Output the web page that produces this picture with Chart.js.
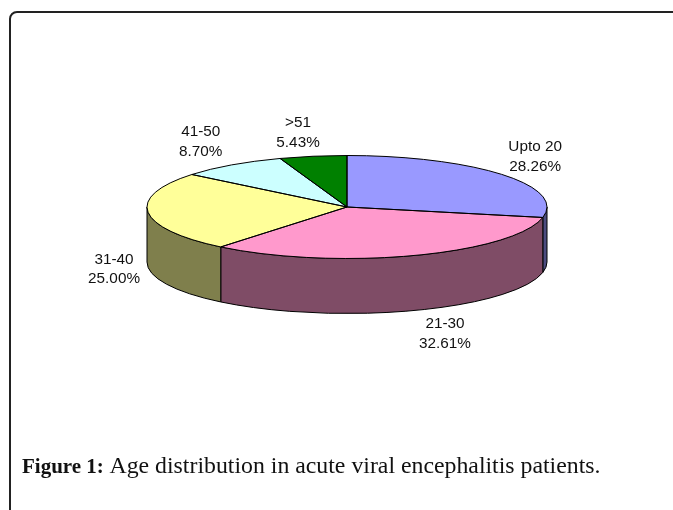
<!DOCTYPE html>
<html>
<head>
<meta charset="utf-8">
<script src="https://cdn.jsdelivr.net/npm/chart.js@4"></script>
<style>
html,body{margin:0;padding:0;background:#fff;width:673px;height:510px;overflow:hidden}
#frame{position:absolute;left:9px;top:11px;width:800px;height:700px;border:2px solid #222;border-radius:8px;box-sizing:border-box}
canvas{position:absolute;left:0;top:0}
#caption{position:absolute;left:22px;top:451px;white-space:nowrap;font:23.8px/28px "Liberation Serif",serif;color:#111}
#caption b{font-weight:bold;font-size:21px;margin-right:1px}
</style>
</head>
<body>
<div id="frame"></div>
<canvas id="c" width="673" height="510"></canvas>
<div id="caption"><b>Figure 1:</b> Age distribution in acute viral encephalitis patients.</div>
<script>
const categories = ['Upto 20', '21-30', '31-40', '41-50', '>51'];
const percentages = [28.26, 32.61, 25.00, 8.70, 5.43];
const percentLabels = ['28.26%', '32.61%', '25.00%', '8.70%', '5.43%'];
const topColors = ['#9999FF', '#FF99CC', '#FFFF99', '#CCFFFF', '#008000'];
const sideColors = ['#4C4C7F', '#7F4C66', '#7F7F4C', '#667F7F', '#004000'];

const squash = 0.2575;   // vertical tilt of the disc
const depth = 55;        // height of the disc wall
const labelOffsets = [[33, -18], [31, 78], [-34, 57], [-31, -23.5], [-15, -23.5]];

const TAU = Math.PI * 2;

const pie3d = {
  id: 'pie3d',
  beforeDatasetsDraw(chart) {
    const ctx = chart.ctx;
    const arcs = chart.getDatasetMeta(0).data;
    const cx = arcs[0].x, cy = arcs[0].y;
    ctx.save();
    ctx.lineWidth = 1;
    ctx.strokeStyle = '#000';
    arcs.forEach((arc, i) => {
      const R = arc.outerRadius;
      let a = arc.startAngle, b = arc.endAngle;
      while (a < 0) { a += TAU; b += TAU; }
      let from = a, to = b;
      if (from >= Math.PI) { from -= TAU; to -= TAU; }
      from = Math.max(from, 0);
      to = Math.min(to, Math.PI);
      if (to <= from) return;
      ctx.beginPath();
      ctx.ellipse(cx, cy, R, R * squash, 0, from, to);
      ctx.lineTo(cx + R * Math.cos(to), cy + R * squash * Math.sin(to) + depth);
      ctx.ellipse(cx, cy + depth, R, R * squash, 0, to, from, true);
      ctx.closePath();
      ctx.fillStyle = sideColors[i];
      ctx.fill();
      ctx.stroke();
    });
    ctx.restore();
    ctx.save();
    ctx.translate(cx, cy);
    ctx.scale(1, squash);
    ctx.translate(-cx, -cy);
  },
  afterDatasetsDraw(chart) {
    const ctx = chart.ctx;
    ctx.restore();
    const arcs = chart.getDatasetMeta(0).data;
    ctx.save();
    ctx.lineWidth = 1;
    ctx.strokeStyle = '#000';
    arcs.forEach(arc => {
      const R = arc.outerRadius;
      ctx.beginPath();
      ctx.moveTo(arc.x, arc.y);
      ctx.ellipse(arc.x, arc.y, R, R * squash, 0, arc.startAngle, arc.endAngle);
      ctx.closePath();
      ctx.stroke();
    });
    ctx.font = '15.3px "Liberation Sans", Arial, sans-serif';
    ctx.fillStyle = '#111';
    ctx.textAlign = 'center';
    ctx.textBaseline = 'middle';
    arcs.forEach((arc, i) => {
      const mid = (arc.startAngle + arc.endAngle) / 2;
      const x = arc.x + arc.outerRadius * Math.cos(mid) + labelOffsets[i][0];
      const y = arc.y + arc.outerRadius * squash * Math.sin(mid) + labelOffsets[i][1];
      ctx.fillText(categories[i], x, y - 9.5);
      ctx.fillText(percentLabels[i], x, y + 10);
    });
    ctx.restore();
  }
};

new Chart(document.getElementById('c'), {
  type: 'pie',
  data: {
    labels: categories,
    datasets: [{
      data: percentages,
      backgroundColor: topColors,
      borderWidth: 0
    }]
  },
  options: {
    responsive: false,
    animation: false,
    events: [],
    layout: { padding: { left: 147, right: 126, top: 7, bottom: 103 } },
    plugins: { legend: { display: false }, tooltip: { enabled: false } }
  },
  plugins: [pie3d]
});
</script>
</body>
</html>
